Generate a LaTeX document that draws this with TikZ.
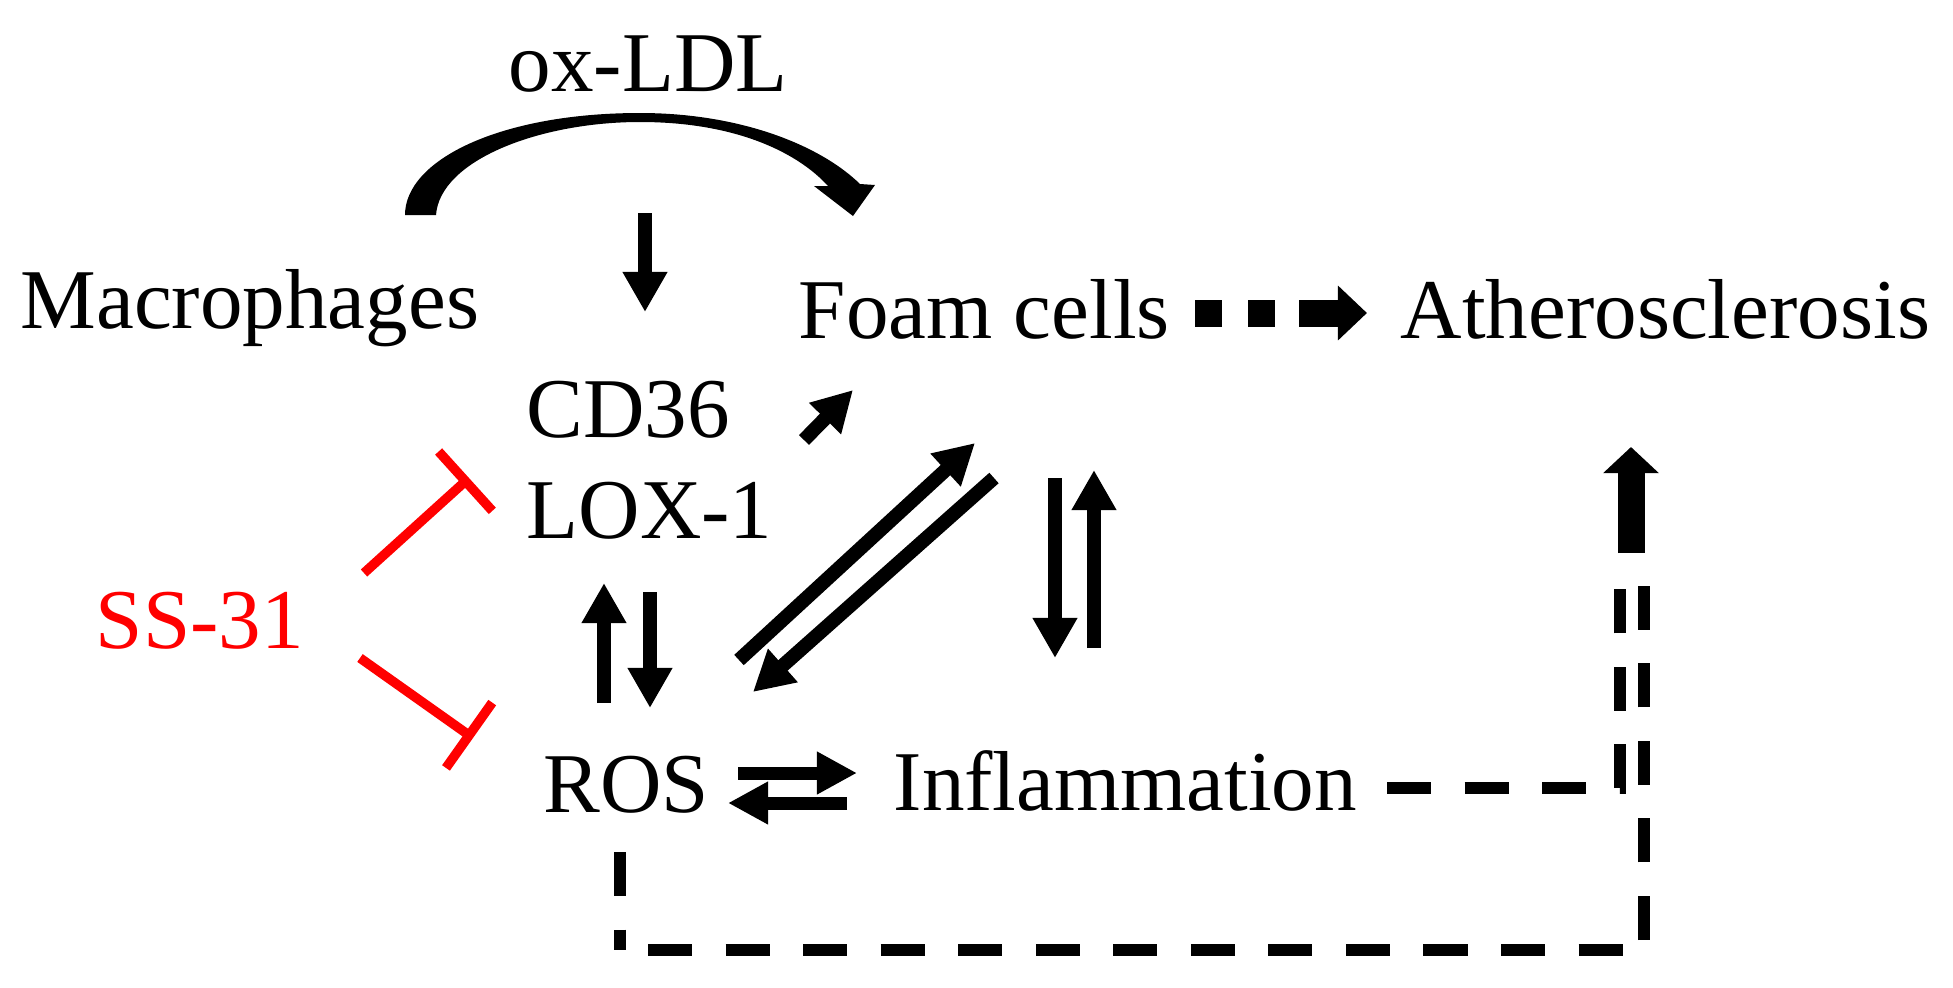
\documentclass[tikz,border=0pt]{standalone}
\usepackage{fontspec}
\setmainfont{Liberation Serif}
\usepackage{xcolor}
\usetikzlibrary{arrows.meta}

\begin{document}
\begin{tikzpicture}[
        x=0.01cm, y=-0.01cm,
        lbl/.style={anchor=base west, inner sep=0pt, font=\fontsize{24.2}{29}\selectfont},
        arr/.style={line width=0.14cm, -{Triangle[width=0.42cm,length=0.40cm]}},
        pairarr/.style={line width=0.13cm, -{Triangle[width=0.40cm,length=0.40cm]}},
        blocker/.style={red, line width=0.095cm, -{Bar[width=0.8cm]}},
        dashline/.style={line width=0.12cm, dash pattern=on 0.44cm off 0.335cm},
    ]
    \useasboundingbox (0,0) rectangle (1953,987);

    % labels
    \node[lbl] (oxldl) at (508,91) {ox-LDL};
    \node[lbl] (mac) at (20,328) {Macrophages};
    \node[lbl] (foam) at (798,338) {Foam cells};
    \node[lbl] (athero) at (1400,338) {Atherosclerosis};
    \node[lbl] (cd36) at (526,437) {CD36};
    \node[lbl] (lox) at (526,538) {LOX-1};
    \node[lbl, text=red] (ss) at (95,648) {SS-31};
    \node[lbl] (ros) at (543,812) {ROS};
    \node[lbl] (infl) at (893,810) {Inflammation};

    % arrow ends
    \coordinate (ox1) at (645,213);   \coordinate (ox2) at (645,312);
    \coordinate (cd1) at (804,440);   \coordinate (cd2) at (853,390);
    \coordinate (rf1) at (739,660);   \coordinate (rf2) at (975,443);
    \coordinate (fr1) at (994,478);   \coordinate (fr2) at (753,692);
    \coordinate (fi1) at (1055,478);  \coordinate (fi2) at (1055,658);
    \coordinate (if1) at (1094,648);  \coordinate (if2) at (1094,470);
    \coordinate (lr1) at (604,703);   \coordinate (lr2) at (604,583);
    \coordinate (rl1) at (650,592);   \coordinate (rl2) at (650,708);
    \coordinate (ri1) at (738,773);   \coordinate (ri2) at (857,773);
    \coordinate (ir1) at (847,803);   \coordinate (ir2) at (728,803);
    \coordinate (fa1) at (1195,313);  \coordinate (fa2) at (1367,313);
    \coordinate (at1) at (1631,553);  \coordinate (at2) at (1631,447);
    \coordinate (ss1) at (364,573);   \coordinate (ss2) at (469,478);
    \coordinate (ss3) at (360,658);   \coordinate (ss4) at (473,738);
    \coordinate (in1) at (1387,788);  \coordinate (in2) at (1620,788);
    \coordinate (in3) at (1620,586);
    \coordinate (ro1) at (620,852);   \coordinate (ro2) at (620,950);
    \coordinate (ro3) at (1644,950);  \coordinate (ro4) at (1644,586);

    % curved arrow over ox-LDL
    \fill (405,215) .. controls (405,160) and (500,113) .. (640,113)
        .. controls (740,113) and (820,145) .. (860,184)
        -- (875,185) -- (853,216) -- (814,186) -- (828,186)
        .. controls (800,155) and (740,122) .. (640,122)
        .. controls (540,122) and (440,160) .. (436,215) -- cycle;

    \draw[arr] (ox1) -- (ox2);
    \draw[arr] (cd1) -- (cd2);
    \draw[arr] (rf1) -- (rf2);
    \draw[arr] (fr1) -- (fr2);
    \draw[arr] (fi1) -- (fi2);
    \draw[arr] (if1) -- (if2);
    \draw[arr] (lr1) -- (lr2);
    \draw[arr] (rl1) -- (rl2);
    \draw[pairarr] (ri1) -- (ri2);
    \draw[pairarr] (ir1) -- (ir2);

    \draw[line width=0.27cm, dash pattern=on 0.27cm off 0.26cm on 0.27cm off 0.24cm on 3cm,
        -{Triangle[width=0.53cm,length=0.29cm]}] (fa1) -- (fa2);
    \draw[line width=0.27cm, -{Triangle[width=0.54cm,length=0.26cm]}] (at1) -- (at2);

    \draw[blocker] (ss1) -- (ss2);
    \draw[blocker] (ss3) -- (ss4);

    % dashed feedback lines
    \draw[dashline] (in1) -- (in2) -- (in3);
    \draw[dashline] (ro1) -- (ro2);
    \draw[dashline, dash phase=0.495cm] (ro2) -- (ro3);
    \draw[dashline, dash phase=0.675cm] (ro3) -- (ro4);

\end{tikzpicture}
\end{document}
